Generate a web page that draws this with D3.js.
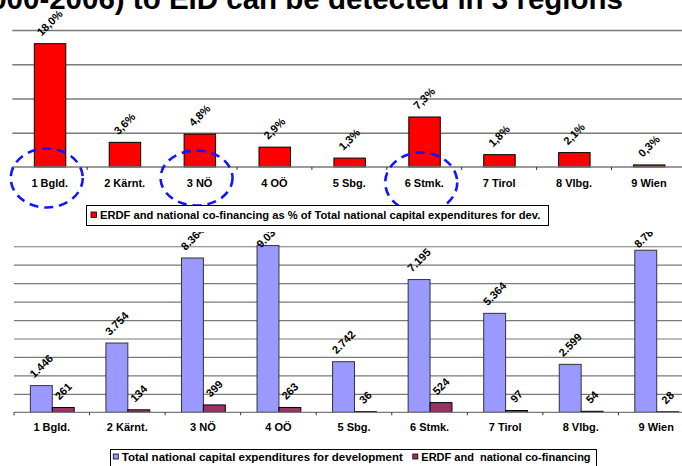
<!DOCTYPE html>
<html lang="en">
<head>
<meta charset="utf-8">
<script src="https://d3js.org/d3.v7.min.js"></script>
<style>
  body { margin: 0; background: #fff; }
  svg { display: block; font-family: Arial, "Liberation Sans", sans-serif; }
</style>
</head>
<body>
<script>
// regions (Austrian Länder) and values
const regions = ["1 Bgld.", "2 Kärnt.", "3 NÖ", "4 OÖ", "5 Sbg.", "6 Stmk.", "7 Tirol", "8 Vlbg.", "9 Wien"];
const erdfShare = [18.0, 3.6, 4.8, 2.9, 1.3, 7.3, 1.8, 2.1, 0.3];      // % of total capital expenditures
const totalCapex = [1446, 3754, 8364, 9037, 2742, 7195, 5364, 2599, 8784];
const erdfCofin = [261, 134, 399, 263, 36, 524, 97, 54, 28];
const circled = ["1 Bgld.", "3 NÖ", "6 Stmk."];
const topGrid = [5, 10, 15, 20];
const bottomGrid = [1000, 2000, 3000, 4000, 5000, 6000, 7000, 8000, 9000];
const seriesNames = ["Total national capital expenditures for development", "ERDF and  national co-financing"];
const topLegend = "ERDF and national co-financing as % of Total national capital expenditures for dev.";

const W = 682, H = 466;
const svg = d3.select("body").append("svg").attr("width", W).attr("height", H);

// title, cut off at the top of the slide
svg.append("text")
  .attr("x", 623).attr("y", 8.5)
  .attr("text-anchor", "end")
  .style("font-size", "29.5px").style("font-weight", "bold")
  .text("(2000-2006) to EID can be detected in 3 regions");

const deFmt = d3.formatLocale({decimal: ",", thousands: ".", grouping: [3], currency: ["", ""]});
const pctFmt = v => deFmt.format(".1f")(v) + "%";
const numFmt = deFmt.format(",");

// rotated value label, centred over bar (kept inside plot like excel does)
function valueLabel(g, txt, cx, top, minY) {
  const t = g.append("text")
    .attr("text-anchor", "middle").attr("dy", "0.35em")
    .style("font-size", "11px").style("font-weight", "bold")
    .text(txt);
  const w = t.node().getComputedTextLength();
  const ext = (w + 8) * Math.SQRT1_2;
  const cy = Math.max(top - 7 - ext / 2, minY);
  t.attr("transform", "translate(" + cx + "," + cy + ") rotate(-45)");
}

// ---------- top chart ----------
const xTop = d3.scaleBand().domain(regions).range([12.3, 686.4]).padding(0);
const yTop = d3.scaleLinear().domain([0, 20]).range([167, 30]);
const gTop = svg.append("g");

gTop.append("g")
  .attr("transform", "translate(12.3,0)")
  .call(d3.axisLeft(yTop).tickValues(topGrid).tickSize(-(686.4 - 12.3)).tickFormat(""))
  .call(g => g.select(".domain").remove())
  .call(g => g.selectAll(".tick line").attr("stroke", "#7a7a7a").attr("stroke-width", 1.3));

const bwTop = xTop.bandwidth() * 0.42;
gTop.selectAll("rect.share")
  .data(regions)
  .enter().append("rect")
  .attr("class", "share")
  .attr("x", d => xTop(d) + xTop.bandwidth() / 2 - bwTop / 2 + 0.3)
  .attr("y", (d, i) => yTop(erdfShare[i]))
  .attr("width", bwTop)
  .attr("height", (d, i) => yTop(0) - yTop(erdfShare[i]))
  .attr("fill", "#ff0000")
  .attr("stroke", "#000").attr("stroke-width", 1);

// baseline + category axis
gTop.append("line").attr("x1", 12.3).attr("x2", 686.4).attr("y1", 167).attr("y2", 167)
  .attr("stroke", "#7a7a7a").attr("stroke-width", 1.3);
regions.concat([null]).forEach((d, i) => {
  const x = 12.3 + i * xTop.step();
  gTop.append("line").attr("x1", x).attr("x2", x).attr("y1", 167).attr("y2", 170)
    .attr("stroke", "#333");
});
gTop.append("g")
  .attr("transform", "translate(0,167)")
  .call(d3.axisBottom(xTop).tickSize(0).tickPadding(12))
  .call(g => g.select(".domain").remove())
  .call(g => g.selectAll("text").style("font-size", "11px").style("font-weight", "bold")
    .style("font-family", "Arial, 'Liberation Sans', sans-serif").attr("fill", "#000"));

regions.forEach((d, i) => {
  valueLabel(gTop, pctFmt(erdfShare[i]), xTop(d) + xTop.bandwidth() / 2, yTop(erdfShare[i]), -50);
});

// dashed ellipses around the three regions
gTop.selectAll("ellipse")
  .data(circled)
  .enter().append("ellipse")
  .attr("cx", d => xTop(d) + xTop.bandwidth() / 2 - 3)
  .attr("cy", (d, i) => [178, 178, 182.5][i])
  .attr("rx", 36).attr("ry", (d, i) => [29.5, 27.5, 30][i])
  .attr("fill", "none")
  .attr("stroke", "#1414ff").attr("stroke-width", 2.6)
  .attr("stroke-dasharray", "9,6");

// top legend
const lgTop = svg.append("g");
lgTop.append("rect").attr("x", 86.5).attr("y", 205.5).attr("width", 462).attr("height", 20)
  .attr("fill", "#fff").attr("stroke", "#000");
lgTop.append("rect").attr("x", 91).attr("y", 212).attr("width", 5.5).attr("height", 5.5)
  .attr("fill", "#ff0000").attr("stroke", "#000").attr("stroke-width", 0.8);
lgTop.append("text").attr("x", 100).attr("y", 218.5)
  .style("font-size", "11.2px").style("font-weight", "bold")
  .text(topLegend);

// ---------- bottom chart ----------
const xBot = d3.scaleBand().domain(regions).range([14, 694]).padding(0);
const xSub = d3.scaleBand().domain(["total", "erdf"]).range([0, xBot.bandwidth() * 0.58]);
const yBot = d3.scaleLinear().domain([0, 10000]).range([412.3, 227.8]);
const gBot = svg.append("g");

svg.append("clipPath").attr("id", "clipBot")
  .append("rect").attr("x", 0).attr("y", 232).attr("width", W).attr("height", H);

gBot.append("g")
  .attr("transform", "translate(14,0)")
  .call(d3.axisLeft(yBot).tickValues(bottomGrid).tickSize(-(694 - 14)).tickFormat(""))
  .call(g => g.select(".domain").remove())
  .call(g => g.selectAll(".tick line").attr("stroke", "#7a7a7a").attr("stroke-width", 1.2));

const pairOff = (xBot.bandwidth() - xSub.range()[1]) / 2 + 0.5;
gBot.selectAll("rect.total")
  .data(regions)
  .enter().append("rect")
  .attr("class", "total")
  .attr("x", d => xBot(d) + pairOff + xSub("total"))
  .attr("y", (d, i) => yBot(totalCapex[i]))
  .attr("width", xSub.bandwidth())
  .attr("height", (d, i) => yBot(0) - yBot(totalCapex[i]))
  .attr("fill", "#9999ff").attr("stroke", "#333").attr("stroke-width", 1);

gBot.selectAll("rect.erdf")
  .data(regions)
  .enter().append("rect")
  .attr("class", "erdf")
  .attr("x", d => xBot(d) + pairOff + xSub("erdf"))
  .attr("y", (d, i) => yBot(erdfCofin[i]))
  .attr("width", xSub.bandwidth())
  .attr("height", (d, i) => yBot(0) - yBot(erdfCofin[i]))
  .attr("fill", "#993366").attr("stroke", "#000").attr("stroke-width", 1);

gBot.append("line").attr("x1", 14).attr("x2", 694).attr("y1", 412.3).attr("y2", 412.3)
  .attr("stroke", "#7a7a7a").attr("stroke-width", 1.2);
regions.concat([null]).forEach((d, i) => {
  const x = 14 + i * xBot.step();
  gBot.append("line").attr("x1", x).attr("x2", x).attr("y1", 412.3).attr("y2", 415.3)
    .attr("stroke", "#333");
});
gBot.append("g")
  .attr("transform", "translate(0,412.3)")
  .call(d3.axisBottom(xBot).tickSize(0).tickPadding(11))
  .call(g => g.select(".domain").remove())
  .call(g => g.selectAll("text").style("font-size", "11px").style("font-weight", "bold")
    .style("font-family", "Arial, 'Liberation Sans', sans-serif").attr("fill", "#000"));

const gLab = gBot.append("g").attr("clip-path", "url(#clipBot)");
regions.forEach((d, i) => {
  const x0 = xBot(d) + pairOff;
  valueLabel(gLab, numFmt(totalCapex[i]), x0 + xSub("total") + xSub.bandwidth() / 2, yBot(totalCapex[i]), 236);
  valueLabel(gLab, numFmt(erdfCofin[i]), x0 + xSub("erdf") + xSub.bandwidth() / 2, yBot(erdfCofin[i]), 236);
});

// bottom legend
const lgBot = svg.append("g");
lgBot.append("rect").attr("x", 110.5).attr("y", 449.5).attr("width", 486).attr("height", 24)
  .attr("fill", "#fff").attr("stroke", "#000");
const items = [
  {name: seriesNames[0], fill: "#9999ff", x: 113.3, size: 11.5},
  {name: seriesNames[1], fill: "#993366", x: 412.8, size: 11}
];
items.forEach(it => {
  lgBot.append("rect").attr("x", it.x).attr("y", 454).attr("width", 5).attr("height", 5)
    .attr("fill", it.fill).attr("stroke", "#000").attr("stroke-width", 0.8);
  lgBot.append("text").attr("x", it.x + 8.5).attr("y", 461)
    .style("font-size", it.size + "px").style("font-weight", "bold")
    .style("white-space", "pre").attr("xml:space", "preserve")
    .text(it.name);
});
</script>
</body>
</html>
